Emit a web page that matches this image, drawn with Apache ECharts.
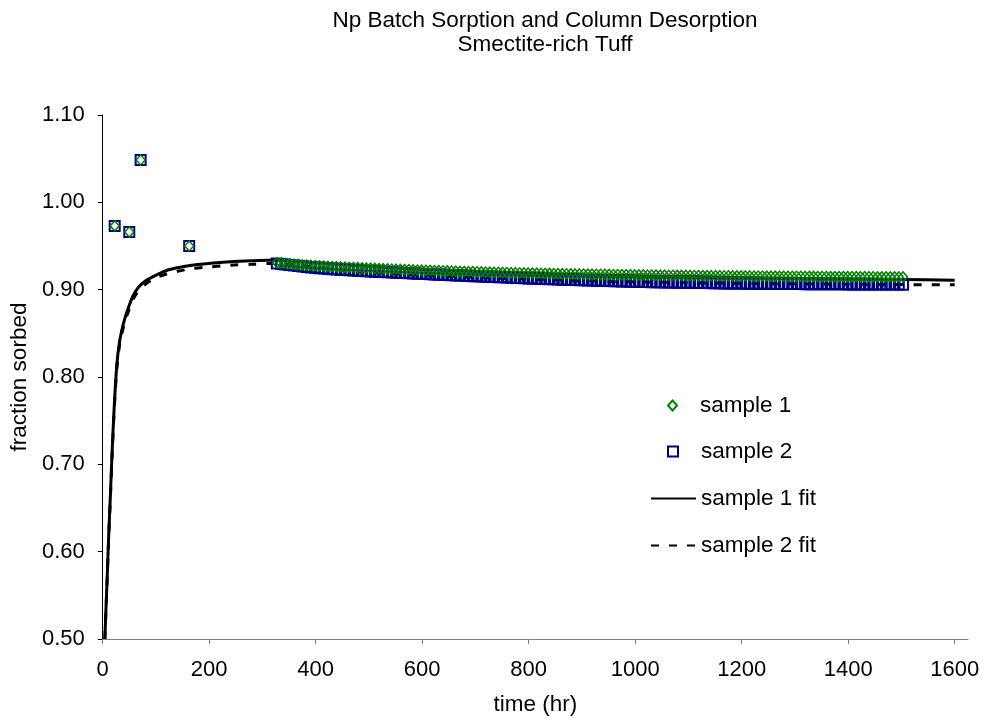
<!DOCTYPE html>
<html>
<head>
<meta charset="utf-8">
<script src="https://cdn.jsdelivr.net/npm/echarts@6/dist/echarts.min.js"></script>
<style>
html,body{margin:0;padding:0;background:#fff;}
#chart{width:997px;height:723px;}
</style>
</head>
<body>
<div id="chart"></div>
<script>
// ---- data ----
const batchTimes = [22.5, 49.9, 71.2, 162.4];
const batchS1 = [0.973, 0.966, 1.0485, 0.950];
const batchS2 = [0.973, 0.966, 1.0485, 0.950];

const colTimes = [
327,335,343,351,359,367,375,383,391,399,
407,415,423,431,439,447,455,463,471,479,
487,495,503,511,519,527,535,543,551,559,
567,575,583,591,599,607,615,623,631,639,
647,655,663,671,679,687,695,703,711,719,
727,735,743,751,759,767,775,783,791,799,
807,815,823,831,839,847,855,863,871,879,
887,895,903,911,919,927,935,943,951,959,
967,975,983,991,999,1007,1015,1023,1031,1039,
1047,1055,1063,1071,1079,1087,1095,1103,1111,1119,
1127,1135,1143,1151,1159,1167,1175,1183,1191,1199,
1207,1215,1223,1231,1239,1247,1255,1263,1271,1279,
1287,1295,1303,1311,1319,1327,1335,1343,1351,1359,
1367,1375,1383,1391,1399,1407,1415,1423,1431,1439,
1447,1455,1463,1471,1479,1487,1495,1503];

const colS1 = [
.9310,.9305,.9300,.9296,.9292,.9289,.9285,.9282,.9279,.9276,
.9273,.9270,.9268,.9265,.9263,.9260,.9258,.9256,.9254,.9252,
.9250,.9248,.9246,.9244,.9242,.9240,.9238,.9236,.9234,.9232,
.9230,.9229,.9227,.9225,.9224,.9222,.9221,.9219,.9218,.9216,
.9215,.9213,.9212,.9210,.9209,.9208,.9206,.9205,.9204,.9202,
.9201,.9200,.9199,.9197,.9196,.9195,.9194,.9193,.9192,.9191,
.9190,.9189,.9188,.9187,.9186,.9185,.9184,.9183,.9182,.9181,
.9180,.9180,.9179,.9178,.9177,.9176,.9176,.9175,.9174,.9173,
.9173,.9172,.9171,.9171,.9170,.9169,.9169,.9168,.9168,.9167,
.9166,.9166,.9165,.9165,.9164,.9164,.9163,.9163,.9162,.9162,
.9161,.9161,.9160,.9160,.9160,.9159,.9159,.9158,.9158,.9158,
.9157,.9157,.9156,.9156,.9156,.9155,.9155,.9155,.9154,.9154,
.9154,.9153,.9153,.9153,.9152,.9152,.9152,.9151,.9151,.9151,
.9150,.9150,.9150,.9150,.9149,.9149,.9149,.9148,.9148,.9148,
.9148,.9147,.9147,.9147,.9147,.9146,.9146,.9146];

const colS2 = [
.9300,.9294,.9288,.9282,.9276,.9270,.9264,.9259,.9254,.9250,
.9246,.9242,.9238,.9234,.9231,.9228,.9225,.9222,.9219,.9216,
.9214,.9211,.9209,.9206,.9204,.9201,.9199,.9197,.9194,.9192,
.9190,.9188,.9185,.9183,.9181,.9179,.9177,.9174,.9172,.9170,
.9168,.9166,.9163,.9161,.9159,.9157,.9155,.9153,.9151,.9149,
.9147,.9145,.9143,.9141,.9139,.9137,.9135,.9133,.9131,.9129,
.9127,.9125,.9123,.9121,.9120,.9118,.9116,.9114,.9113,.9111,
.9110,.9108,.9107,.9105,.9104,.9102,.9101,.9100,.9098,.9097,
.9096,.9094,.9093,.9092,.9091,.9090,.9088,.9087,.9086,.9085,
.9084,.9083,.9082,.9081,.9080,.9079,.9078,.9078,.9077,.9076,
.9075,.9075,.9074,.9073,.9073,.9072,.9071,.9071,.9070,.9070,
.9069,.9069,.9068,.9068,.9067,.9067,.9066,.9066,.9066,.9065,
.9065,.9064,.9064,.9064,.9063,.9063,.9063,.9062,.9062,.9062,
.9061,.9061,.9061,.9061,.9060,.9060,.9060,.9060,.9059,.9059,
.9059,.9059,.9058,.9058,.9058,.9058,.9058,.9057];

const fitTimes = [4, 6, 8, 11, 14.3, 17.5, 20.6, 23.5, 26.8, 31, 36, 42, 48.7, 57, 67.5, 80, 92, 105, 120, 140,
  167, 200, 240, 280, 320, 350, 400, 450, 500, 600, 700, 800, 900, 1000, 1100, 1200, 1300, 1400, 1500, 1600];
const fit1 = [0.500, 0.533, 0.564, 0.615, 0.663, 0.712, 0.754, 0.787, 0.816, 0.838, 0.854, 0.868, 0.880, 0.893, 0.903, 0.910, 0.914, 0.918, 0.922, 0.925,
  0.928, 0.930, 0.932, 0.933, 0.934, 0.9335, 0.931, 0.929, 0.927, 0.9235, 0.921, 0.919, 0.917, 0.916, 0.915, 0.914, 0.913, 0.9125, 0.9117, 0.9107];
const fit2 = [0.500, 0.532, 0.562, 0.612, 0.660, 0.708, 0.750, 0.783, 0.812, 0.834, 0.850, 0.864, 0.876, 0.889, 0.899, 0.906, 0.911, 0.915, 0.918, 0.921,
  0.924, 0.926, 0.928, 0.929, 0.930, 0.929, 0.9255, 0.9225, 0.920, 0.9165, 0.914, 0.912, 0.910, 0.9088, 0.908, 0.9073, 0.9067, 0.9062, 0.9058, 0.9056];

const xTicks = [0, 200, 400, 600, 800, 1000, 1200, 1400, 1600];
const seriesNames = ['sample 1', 'sample 2', 'sample 1 fit', 'sample 2 fit'];
const titleText = 'Np Batch Sorption and Column Desorption\nSmectite-rich Tuff';

// ---- build ----
const s1Data = batchTimes.map((t, i) => [t, batchS1[i]]).concat(colTimes.map((t, i) => [t, colS1[i]]));
const s2Data = batchTimes.map((t, i) => [t, batchS2[i]]).concat(colTimes.map((t, i) => [t, colS2[i]]));
const f1Data = fitTimes.map((t, i) => [t, fit1[i]]);
const f2Data = fitTimes.map((t, i) => [t, fit2[i]]);

const FONT = 'Arial, "Liberation Sans", sans-serif';
const txt = {fontFamily: FONT, fontSize: 22.5, color: '#000'};
const txtPadded = {fontFamily: FONT, fontSize: 22.5, color: '#000', padding: [0, 0, 0, 18]};

const chart = echarts.init(document.getElementById('chart'), null, {renderer: 'canvas'});
const legendBase = {orient: 'vertical', left: 650, padding: 0, itemWidth: 45, itemGap: 0,
  textStyle: txt, selectedMode: false};
const hiddenDot = {color: 'rgba(0,0,0,0)', borderColor: 'rgba(0,0,0,0)', borderWidth: 0};
chart.setOption({
  animation: false,
  backgroundColor: '#fff',
  graphic: [{
    type: 'text', x: 545, y: 9,
    style: {text: titleText, x: 0, y: 0, align: 'center', textAlign: 'center', font: '22.5px Arial, "Liberation Sans", sans-serif', lineHeight: 24, fill: '#000'}
  }],
  grid: {left: 101, right: 29, top: 115, bottom: 84, containLabel: false},
  xAxis: {
    type: 'value', min: 0, max: 1625, interval: 200,
    name: 'time (hr)', nameLocation: 'middle', nameGap: 54, nameTextStyle: txt,
    axisLine: {onZero: false, lineStyle: {color: '#808080', width: 1}},
    axisTick: {show: true, inside: false, length: 5, lineStyle: {color: '#808080'}, customValues: xTicks},
    axisLabel: {margin: 20, fontFamily: FONT, fontSize: 22, color: '#000', customValues: xTicks, formatter: v => String(v)},
    splitLine: {show: false}
  },
  yAxis: {
    type: 'value', min: 0.5, max: 1.1, interval: 0.1,
    name: 'fraction sorbed', nameLocation: 'middle', nameGap: 69, nameTextStyle: txt,
    axisLine: {show: true, onZero: false, lineStyle: {color: '#000', width: 1}},
    axisTick: {show: true, inside: false, length: 5, lineStyle: {color: '#000'}},
    axisLabel: {margin: 18, fontFamily: FONT, fontSize: 22, color: '#000', formatter: v => v.toFixed(2)},
    splitLine: {show: false}
  },
  legend: [
    Object.assign({}, legendBase, {data: [seriesNames[0]], top: 394, left: 667, itemWidth: 9, itemHeight: 10, textStyle: txtPadded}),
    Object.assign({}, legendBase, {data: [seriesNames[1]], top: 440, left: 667, itemWidth: 10, itemHeight: 10, textStyle: txtPadded}),
    Object.assign({}, legendBase, {data: [seriesNames[2]], top: 487, itemHeight: 10, itemStyle: hiddenDot}),
    Object.assign({}, legendBase, {data: [seriesNames[3]], top: 534, itemHeight: 10, itemStyle: hiddenDot})
  ],
  series: [
    {name: seriesNames[2], type: 'line', data: f1Data, showSymbol: false, symbol: 'none', smooth: 0.3,
     lineStyle: {color: '#000', width: 3}, itemStyle: {color: '#000'}, z: 2},
    {name: seriesNames[3], type: 'line', data: f2Data, showSymbol: false, symbol: 'none', smooth: 0.3,
     lineStyle: {color: '#000', width: 3, type: [8, 10]}, itemStyle: {color: '#000'}, z: 2},
    {name: seriesNames[1], type: 'scatter', data: s2Data, symbol: 'rect', symbolSize: 10,
     itemStyle: {color: 'rgba(255,255,255,0)', borderColor: '#000080', borderWidth: 2, opacity: 1}, z: 3},
    {name: seriesNames[0], type: 'scatter', data: s1Data, symbol: 'diamond', symbolSize: [9, 10],
     itemStyle: {color: 'rgba(255,255,255,0)', borderColor: '#008000', borderWidth: 1.5, opacity: 1}, z: 4}
  ]
});
</script>
</body>
</html>
